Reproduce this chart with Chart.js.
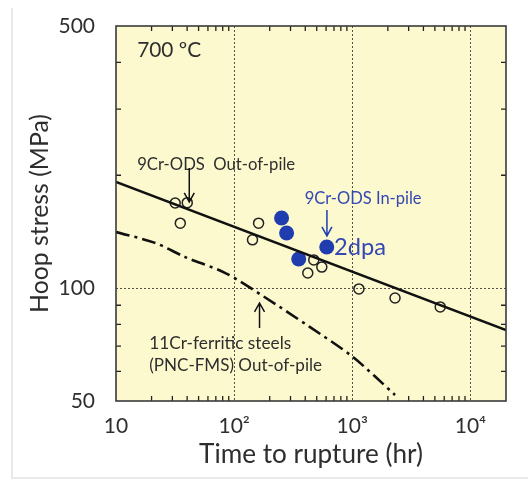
<!DOCTYPE html>
<html>
<head>
<meta charset="utf-8">
<script src="https://cdn.jsdelivr.net/npm/chart.js@4.4.1/dist/chart.umd.min.js"></script>
<style>
  html, body { margin: 0; padding: 0; background: #fff; }
  #wrap { width: 528px; height: 484px; position: relative; }
</style>
</head>
<body>
<div id="wrap"><canvas id="chart"></canvas></div>
<script>
// ---- data ----
const outPileTime   = [31.7, 40.1, 35, 161, 143, 472, 552, 420, 1138, 2300, 5550];
const outPileStress = [168.7, 169, 149, 149, 134.5, 118.9, 113.8, 109.7, 99.5, 94.1, 89.1];

const inPileTime   = [252, 278, 352, 608];
const inPileStress = [153.8, 140.3, 119.6, 128.7];

const fitTime   = [10, 20000];
const fitStress = [192, 77.3];

const fmsTime   = [10, 21.4, 38.5, 84.3, 180.6, 436, 1012, 2300];
const fmsStress = [141.1, 132, 121, 109.7, 94.7, 78.8, 65.5, 51.9];

const xTickVals   = [10, 100, 1000, 10000];
const xTickLabels = ['10', '10²', '10³', '10⁴'];
const yTickVals   = [50, 100, 500];
const xMinorVals  = [20, 30, 40, 50, 60, 70, 80, 90, 200, 300, 400, 500, 600, 700, 800, 900,
                     2000, 3000, 4000, 5000, 6000, 7000, 8000, 9000];
const yMinorVals  = [60, 70, 80, 90, 200, 300, 400];

const FONT = 'Lato';
const INK = '#2e2e2e';
const BLUE = '#1f3dae';
const BLUE_TEXT = '#3447b3';

const toXY = (xs, ys) => xs.map((x, i) => ({ x, y: ys[i] }));

// font size that makes a string a given pixel width
const mctx = document.createElement('canvas').getContext('2d');
function fitSize(text, width) {
  mctx.font = '100px ' + FONT;
  return 100 * width / mctx.measureText(text).width;
}

// text + arrows, anchored in data units (w = wanted text width in px)
const notes = [
  { text: '700 ºC', x: 15.1, y: 431, w: 64, color: INK },
  { text: '9Cr-ODS  Out-of-pile', x: 15.1, y: 214, w: 158, color: INK },
  { text: '9Cr-ODS In-pile', x: 395, y: 172.8, w: 117, color: BLUE_TEXT },
  { text: '2dpa', x: 700, y: 128.7, w: 52, color: BLUE_TEXT },
  { text: '11Cr-ferritic steels', x: 19.1, y: 71.4, w: 142, color: INK },
  { text: '(PNC-FMS) Out-of-pile', x: 19.1, y: 62.0, w: 173, color: INK },
];
const arrows = [
  { x: 41.7, from: 209, to: 169.8, color: '#111' },
  { x: 610, from: 161.6, to: 137.8, color: BLUE },
  { x: 164, from: 78.3, to: 91.3, color: '#111' },
];

const xTitle = 'Time to rupture (hr)';
const yTitle = 'Hoop stress (MPa)';
const xTitleSize = fitSize(xTitle, 224);
const yTitleSize = fitSize(yTitle, 199);

const framePlugin = {
  id: 'frame',
  beforeDraw(chart) {
    const { ctx, chartArea: a } = chart;
    ctx.save();
    ctx.strokeStyle = '#e9e9e9';
    ctx.lineWidth = 2;
    ctx.beginPath();
    ctx.moveTo(12, 8); ctx.lineTo(12, 478); ctx.lineTo(528, 478);
    ctx.stroke();
    ctx.fillStyle = '#fcf9cf';
    ctx.fillRect(a.left, a.top, a.right - a.left, a.bottom - a.top);
    ctx.restore();
  },
  beforeDatasetsDraw(chart) {
    const { ctx, chartArea: a, scales: { x, y } } = chart;
    ctx.save();
    ctx.strokeStyle = 'rgba(50,50,50,0.85)';
    ctx.lineWidth = 1;
    ctx.setLineDash([2, 2]);
    [100, 1000, 10000].forEach(v => {
      const px = Math.round(x.getPixelForValue(v)) + 0.5;
      ctx.beginPath(); ctx.moveTo(px, a.top); ctx.lineTo(px, a.bottom); ctx.stroke();
    });
    const py = Math.round(y.getPixelForValue(100)) + 0.5;
    ctx.beginPath(); ctx.moveTo(a.left, py); ctx.lineTo(a.right, py); ctx.stroke();
    ctx.restore();
  },
  afterDatasetsDraw(chart) {
    const { ctx, chartArea: a, scales: { x, y } } = chart;
    ctx.save();
    // minor ticks, pointing inward on all four sides
    ctx.strokeStyle = '#222';
    ctx.lineWidth = 1.3;
    const len = 5;
    xMinorVals.forEach(v => {
      const px = x.getPixelForValue(v);
      ctx.beginPath();
      ctx.moveTo(px, a.bottom); ctx.lineTo(px, a.bottom - len);
      ctx.moveTo(px, a.top); ctx.lineTo(px, a.top + len);
      ctx.stroke();
    });
    yMinorVals.forEach(v => {
      const py = y.getPixelForValue(v);
      ctx.beginPath();
      ctx.moveTo(a.left, py); ctx.lineTo(a.left + len, py);
      ctx.moveTo(a.right, py); ctx.lineTo(a.right - len, py);
      ctx.stroke();
    });
    // frame
    ctx.strokeStyle = '#3a3a3a';
    ctx.lineWidth = 1.6;
    ctx.strokeRect(a.left, a.top, a.right - a.left, a.bottom - a.top);

    // notes
    ctx.textBaseline = 'middle';
    ctx.textAlign = 'left';
    notes.forEach(n => {
      ctx.font = fitSize(n.text, n.w).toFixed(2) + 'px ' + FONT;
      ctx.fillStyle = n.color;
      ctx.fillText(n.text, x.getPixelForValue(n.x), y.getPixelForValue(n.y));
    });
    // arrows
    ctx.lineWidth = 1.5;
    arrows.forEach(ar => {
      const px = x.getPixelForValue(ar.x);
      const p0 = y.getPixelForValue(ar.from);
      const p1 = y.getPixelForValue(ar.to);
      const dir = p1 > p0 ? 1 : -1;
      ctx.strokeStyle = ar.color;
      ctx.beginPath();
      ctx.moveTo(px, p0); ctx.lineTo(px, p1);
      ctx.moveTo(px - 5, p1 - dir * 9); ctx.lineTo(px, p1); ctx.lineTo(px + 5, p1 - dir * 9);
      ctx.stroke();
    });
    ctx.restore();
  }
};

new Chart(document.getElementById('chart'), {
  type: 'scatter',
  data: {
    datasets: [
      {
        label: 'Fit',
        data: toXY(fitTime, fitStress),
        showLine: true,
        borderColor: '#111',
        borderWidth: 2.4,
        pointRadius: 0,
      },
      {
        label: '11Cr-ferritic steels',
        data: toXY(fmsTime, fmsStress),
        showLine: true,
        borderColor: '#111',
        borderWidth: 2.6,
        borderDash: [14, 5, 3, 5],
        tension: 0.3,
        pointRadius: 0,
      },
      {
        label: '9Cr-ODS Out-of-pile',
        data: toXY(outPileTime, outPileStress),
        pointRadius: 5,
        pointBorderWidth: 1.5,
        pointBorderColor: '#222',
        pointBackgroundColor: 'rgba(0,0,0,0)',
      },
      {
        label: '9Cr-ODS In-pile',
        data: toXY(inPileTime, inPileStress),
        pointRadius: 7.5,
        pointBorderWidth: 0,
        pointBackgroundColor: BLUE,
      },
    ]
  },
  options: {
    responsive: true,
    maintainAspectRatio: false,
    animation: false,
    layout: { padding: { top: 26, right: 22, left: 0, bottom: 0 } },
    plugins: { legend: { display: false }, tooltip: { enabled: false } },
    scales: {
      x: {
        type: 'logarithmic',
        min: 10, max: 20000,
        afterBuildTicks: s => { s.ticks = xTickVals.map(v => ({ value: v })); },
        afterFit: s => { s.height = 83; },
        grid: { display: false },
        border: { display: false },
        ticks: {
          color: INK, font: { family: FONT, size: 21 }, padding: 5, maxRotation: 0,
          autoSkip: false,
          callback: v => xTickLabels[xTickVals.indexOf(v)],
        },
        title: {
          display: true, text: xTitle, color: INK,
          font: { family: FONT, size: xTitleSize, lineHeight: 1.2 },
          padding: { top: 0, bottom: 29 - xTitleSize * 0.6 },
        },
      },
      y: {
        type: 'logarithmic',
        min: 50, max: 500,
        afterBuildTicks: s => { s.ticks = yTickVals.map(v => ({ value: v })); },
        afterFit: s => { s.width = 116; },
        grid: { display: false },
        border: { display: false },
        ticks: {
          color: INK, font: { family: FONT, size: 21 }, padding: 13, autoSkip: false,
          callback: v => String(v),
        },
        title: {
          display: true, text: yTitle, color: INK,
          font: { family: FONT, size: yTitleSize, lineHeight: 1.2 },
          padding: { top: 40 - yTitleSize * 0.6, bottom: 0 },
        },
      },
    }
  },
  plugins: [framePlugin]
});
</script>
</body>
</html>
